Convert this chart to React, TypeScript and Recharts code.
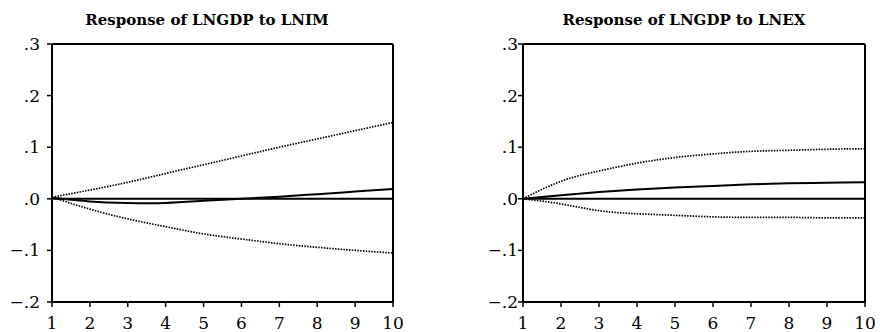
import { LineChart, Line, XAxis, YAxis, ReferenceLine } from "recharts";

const periods = [1, 2, 3, 4, 5, 6, 7, 8, 9, 10];
const yTicks = [-0.2, -0.1, 0, 0.1, 0.2, 0.3];

// Response of LNGDP to LNIM
const imResp = [0.002, -0.005, -0.008, -0.008, -0.004, 0.0, 0.004, 0.009, 0.014, 0.019];
const imUpper = [0.003, 0.017, 0.032, 0.049, 0.066, 0.083, 0.1, 0.116, 0.132, 0.148];
const imLower = [0.003, -0.02, -0.039, -0.054, -0.068, -0.078, -0.087, -0.094, -0.1, -0.105];

// Response of LNGDP to LNEX
const exResp = [0.0, 0.007, 0.013, 0.018, 0.022, 0.025, 0.028, 0.03, 0.031, 0.032];
const exUpper = [0.0, 0.034, 0.054, 0.069, 0.08, 0.087, 0.092, 0.094, 0.096, 0.097];
const exLower = [0.0, -0.01, -0.023, -0.029, -0.032, -0.035, -0.036, -0.036, -0.037, -0.037];

const FONT = "DejaVu Serif";

function fmtY(v: number): string {
  if (Math.abs(v) < 1e-9) return ".0";
  const s = Math.abs(v).toFixed(1).replace(/^0/, "");
  return v < 0 ? "\u2212" + s : s;
}

interface PanelProps {
  title: string;
  resp: number[];
  upper: number[];
  lower: number[];
  left: number;
  axisWidth: number;
  rightMargin: number;
  labelGap: number;
  titleX: number;
}

function Panel({ title, resp, upper, lower, left, axisWidth, rightMargin, labelGap, titleX }: PanelProps) {
  const data = periods.map((p, i) => ({ p, resp: resp[i], upper: upper[i], lower: lower[i] }));
  const tick = { fontSize: 17, fill: "#000", fontFamily: FONT };
  return (
    <div style={{ position: "absolute", left, top: 0, width: 440, height: 332 }}>
      <div style={{
        position: "absolute", left: titleX, top: 11, transform: "translateX(-50%)",
        whiteSpace: "nowrap", fontFamily: FONT, fontSize: 15, fontWeight: "bold", color: "#000",
      }}>
        {title}
      </div>
      <LineChart width={440} height={332} data={data}
        margin={{ top: 44, right: rightMargin, bottom: 0, left: 0 }}
        style={{ fontFamily: FONT }}>
        <XAxis dataKey="p" type="number" domain={[1, 10]} ticks={periods} height={30}
          tick={tick} tickSize={5} tickMargin={10} axisLine={{ stroke: "#000", strokeWidth: 2 }}
          tickLine={{ stroke: "#000", strokeWidth: 1.5 }} interval={0} />
        <YAxis type="number" domain={[-0.2, 0.3]} ticks={yTicks} width={axisWidth}
          tickFormatter={fmtY} tick={tick} tickSize={5} tickMargin={labelGap}
          axisLine={{ stroke: "#000", strokeWidth: 2 }} tickLine={{ stroke: "#000", strokeWidth: 1.5 }}
          interval={0} />
        <ReferenceLine y={0.3} stroke="#000" strokeWidth={2} />
        <ReferenceLine x={10} stroke="#000" strokeWidth={2} />
        <ReferenceLine y={0} stroke="#000" strokeWidth={2} />
        <Line type="natural" dataKey="upper" stroke="#000" strokeWidth={1.7}
          strokeDasharray="1.5 1.3" dot={false} isAnimationActive={false} />
        <Line type="natural" dataKey="lower" stroke="#000" strokeWidth={1.7}
          strokeDasharray="1.5 1.3" dot={false} isAnimationActive={false} />
        <Line type="natural" dataKey="resp" stroke="#000" strokeWidth={2}
          dot={false} isAnimationActive={false} />
      </LineChart>
    </div>
  );
}

export default function App() {
  return (
    <div style={{ position: "absolute", left: 0, top: 0, width: 880, height: 332, background: "#fff" }}>
      <Panel title="Response of LNGDP to LNIM" resp={imResp} upper={imUpper} lower={imLower}
        left={0} axisWidth={52} rightMargin={47} labelGap={7} titleX={207} />
      <Panel title="Response of LNGDP to LNEX" resp={exResp} upper={exUpper} lower={exLower}
        left={440} axisWidth={83} rightMargin={15} labelGap={0} titleX={244} />
    </div>
  );
}
